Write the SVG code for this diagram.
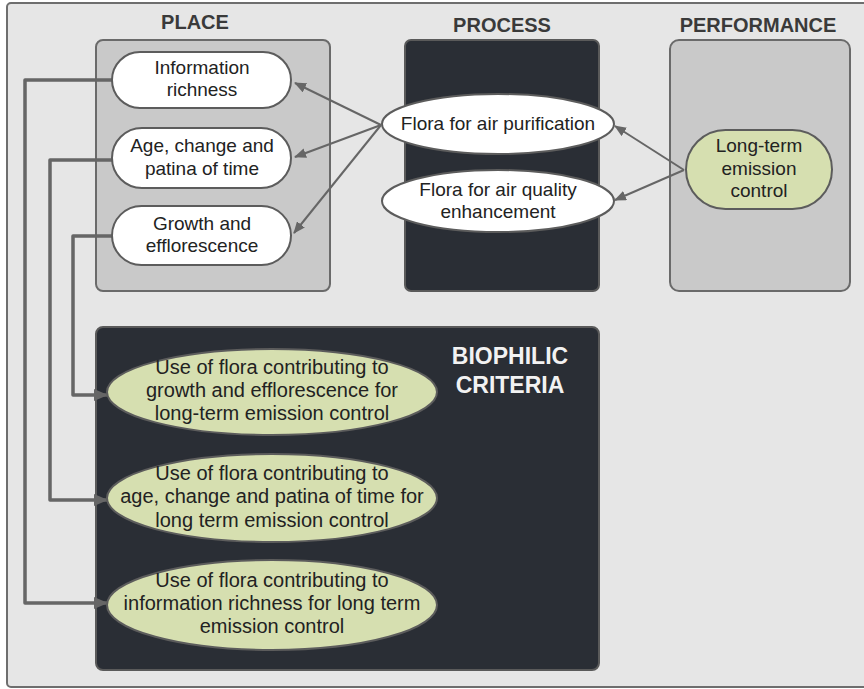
<svg xmlns="http://www.w3.org/2000/svg" width="864" height="689" viewBox="0 0 864 689">
  <style>
    .frame { fill: #e6e6e6; stroke: #6e6e6e; stroke-width: 2; }
    .panel-light { fill: #c9c9c9; stroke: #6a6a6a; stroke-width: 2; }
    .panel-dark { fill: #2a2e35; stroke: #5a5a5a; stroke-width: 2; }
    .pill-white { fill: #ffffff; stroke: #5c5c5c; stroke-width: 2; }
    .pill-green { fill: #d6dfb0; stroke: #5c5c5c; stroke-width: 2; }
    .title { font-family: "Liberation Sans", Arial, sans-serif; font-size: 20px; font-weight: bold; fill: #3a3a3a; text-anchor: middle; }
    .title-light { font-family: "Liberation Sans", Arial, sans-serif; font-size: 23px; font-weight: bold; fill: #f2f2f2; text-anchor: middle; }
    .label { font-family: "Liberation Sans", Arial, sans-serif; font-size: 19px; fill: #222222; text-anchor: middle; }
    .label-lg { font-family: "Liberation Sans", Arial, sans-serif; font-size: 20px; fill: #222222; text-anchor: middle; }
    .arrow { fill: none; stroke: #666666; stroke-width: 2; }
    .elbow { fill: none; stroke: #666666; stroke-width: 3.5; stroke-linejoin: round; }
  </style>
  <defs>
    <marker id="head" viewBox="0 0 12 10" refX="11" refY="5" markerWidth="12" markerHeight="10" markerUnits="userSpaceOnUse" orient="auto">
      <path d="M0,0 L12,5 L0,10 Z" fill="#666666"/>
    </marker>
    <marker id="head-wide" viewBox="0 0 14 12" refX="13" refY="6" markerWidth="14" markerHeight="12" markerUnits="userSpaceOnUse" orient="auto">
      <path d="M0,0 L14,6 L0,12 Z" fill="#666666"/>
    </marker>
  </defs>

  <!-- outer frame -->
  <rect class="frame" x="7" y="3" width="872" height="684" rx="4"/>

  <!-- column panels -->
  <g id="place">
    <text class="title" x="195" y="29">PLACE</text>
    <rect class="panel-light" x="96" y="40" width="234" height="251" rx="7"/>
  </g>
  <g id="process">
    <text class="title" x="502" y="32">PROCESS</text>
    <rect class="panel-dark" x="405" y="40" width="194" height="251" rx="6"/>
  </g>
  <g id="performance">
    <text class="title" x="758" y="32">PERFORMANCE</text>
    <rect class="panel-light" x="670" y="40" width="180" height="251" rx="9"/>
  </g>
  <g id="biophilic-criteria">
    <rect class="panel-dark" x="96" y="327" width="503" height="343" rx="7"/>
    <text class="title-light" x="510" y="364">BIOPHILIC</text>
    <text class="title-light" x="510" y="393">CRITERIA</text>
  </g>

  <!-- connectors -->
  <g id="connectors">
    <line class="arrow" x1="381" y1="125" x2="295" y2="83" marker-end="url(#head)"/>
    <line class="arrow" x1="381" y1="125" x2="295" y2="157" marker-end="url(#head)"/>
    <line class="arrow" x1="381" y1="125" x2="294" y2="233" marker-end="url(#head)"/>
    <line class="arrow" x1="684" y1="170" x2="615" y2="126" marker-end="url(#head)"/>
    <line class="arrow" x1="684" y1="170" x2="615" y2="200" marker-end="url(#head)"/>
    <path class="elbow" d="M112,80 H25 V603 H107" marker-end="url(#head-wide)"/>
    <path class="elbow" d="M112,160 H50 V500 H107" marker-end="url(#head-wide)"/>
    <path class="elbow" d="M112,236 H73 V395 H107" marker-end="url(#head-wide)"/>
  </g>

  <!-- place nodes -->
  <g id="information-richness">
    <rect class="pill-white" x="112" y="52" width="179" height="56" rx="28"/>
    <text class="label" x="202" y="74">Information</text>
    <text class="label" x="202" y="96">richness</text>
  </g>
  <g id="age-change-patina">
    <rect class="pill-white" x="112" y="128" width="179" height="60" rx="30"/>
    <text class="label" x="202" y="152">Age, change and</text>
    <text class="label" x="202" y="175">patina of time</text>
  </g>
  <g id="growth-efflorescence">
    <rect class="pill-white" x="112" y="206" width="179" height="59" rx="29.5"/>
    <text class="label" x="202" y="230">Growth and</text>
    <text class="label" x="202" y="252">efflorescence</text>
  </g>

  <!-- process nodes -->
  <g id="air-purification">
    <ellipse class="pill-white" cx="498" cy="124" rx="116" ry="30"/>
    <text class="label" x="498" y="130">Flora for air purification</text>
  </g>
  <g id="air-quality">
    <ellipse class="pill-white" cx="498" cy="201" rx="116" ry="31"/>
    <text class="label" x="498" y="196">Flora for air quality</text>
    <text class="label" x="498" y="218">enhancement</text>
  </g>

  <!-- performance node -->
  <g id="long-term-emission">
    <rect class="pill-green" x="686" y="130" width="146" height="79" rx="39.5"/>
    <text class="label" x="759" y="152">Long-term</text>
    <text class="label" x="759" y="175">emission</text>
    <text class="label" x="759" y="197">control</text>
  </g>

  <!-- biophilic criteria nodes -->
  <g id="criterion-growth">
    <ellipse class="pill-green" cx="272" cy="392" rx="165" ry="43"/>
    <text class="label-lg" x="272" y="374">Use of flora contributing to</text>
    <text class="label-lg" x="272" y="397">growth and efflorescence for</text>
    <text class="label-lg" x="272" y="420">long-term emission control</text>
  </g>
  <g id="criterion-age">
    <ellipse class="pill-green" cx="272" cy="498" rx="165" ry="44"/>
    <text class="label-lg" x="272" y="480">Use of flora contributing to</text>
    <text class="label-lg" x="272" y="503">age, change and patina of time for</text>
    <text class="label-lg" x="272" y="527">long term emission control</text>
  </g>
  <g id="criterion-information">
    <ellipse class="pill-green" cx="272" cy="605" rx="165" ry="45"/>
    <text class="label-lg" x="272" y="587">Use of flora contributing to</text>
    <text class="label-lg" x="272" y="610">information richness for long term</text>
    <text class="label-lg" x="272" y="633">emission control</text>
  </g>
</svg>
